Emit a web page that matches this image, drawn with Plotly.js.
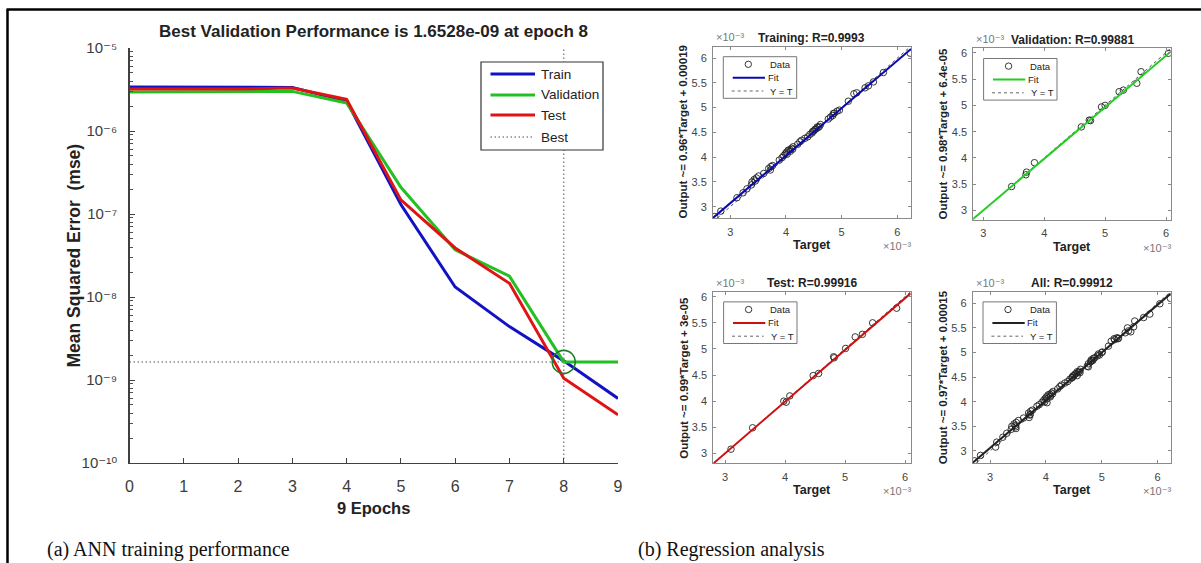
<!DOCTYPE html>
<html><head><meta charset="utf-8">
<script src="https://cdn.plot.ly/plotly-3.0.1.min.js"></script>
<style>html,body{margin:0;padding:0;background:#fff}#chart{width:1201px;height:563px}</style>
</head><body><div id="chart"></div>
<script>
// ---------- data: training performance ----------
const epochs = [0,1,2,3,4,5,6,7,8,9];
const trainPerf = [3.4e-6,3.4e-6,3.4e-6,3.35e-6,2.3e-6,1.3e-7,1.32e-8,4.4e-9,1.7e-9,6.0e-10];
const valPerf   = [2.95e-6,2.95e-6,2.95e-6,3.0e-6,2.18e-6,2.1e-7,3.7e-8,1.78e-8,1.6528e-9,1.6528e-9];
const testPerf  = [3.2e-6,3.2e-6,3.2e-6,3.3e-6,2.4e-6,1.48e-7,3.9e-8,1.46e-8,1.05e-9,3.8e-10];
const bestEpoch = 8;
const bestPerf = 1.6528e-9;
const perfTickVals = [1e-10,1e-9,1e-8,1e-7,1e-6,1e-5];
const perfTickText = ['10⁻¹⁰','10⁻⁹','10⁻⁸','10⁻⁷','10⁻⁶','10⁻⁵'];
const legendNames = ['Train','Validation','Test','Best'];

// ---------- data: regression (x10^-3) ----------
const trainT = [2.72,2.83,3.12,3.23,3.30,3.39,3.43,3.47,3.51,3.60,3.69,3.73,3.76,3.88,3.93,3.96,3.99,4.01,4.04,4.07,4.10,4.13,4.21,4.25,4.28,4.34,4.39,4.43,4.47,4.50,4.54,4.56,4.60,4.62,4.76,4.80,4.84,4.87,4.92,4.96,5.12,5.22,5.27,5.42,5.48,5.57,5.75,6.23,3.45,4.02,4.08,4.12,4.52,4.58,4.48,3.72,3.38,4.85];
const trainO = [2.80,2.91,3.18,3.28,3.36,3.50,3.55,3.58,3.62,3.67,3.77,3.81,3.83,3.94,3.99,4.03,4.07,4.10,4.14,4.15,4.18,4.21,4.26,4.31,4.34,4.38,4.41,4.46,4.49,4.53,4.57,4.61,4.62,4.66,4.77,4.81,4.84,4.89,4.93,4.95,5.13,5.28,5.30,5.40,5.44,5.52,5.71,6.10,3.52,4.06,4.12,4.16,4.56,4.60,4.52,3.74,3.44,4.88];
const valT = [3.465,3.70,3.71,3.84,4.61,4.74,4.76,4.94,5.00,5.23,5.30,5.52,5.59,6.04];
const valO = [3.456,3.68,3.73,3.91,4.59,4.72,4.71,4.97,5.00,5.26,5.29,5.42,5.64,5.99];
const testT = [3.10,3.46,3.98,4.02,4.08,4.47,4.56,4.81,4.82,5.01,5.17,5.29,5.46,5.86];
const testO = [3.08,3.49,4.00,3.98,4.10,4.49,4.53,4.85,4.83,5.01,5.23,5.28,5.50,5.78];
const allT = trainT.concat(valT, testT);
const allO = trainO.concat(valO, testO);
const regTitles = ['Training: R=0.9993','Validation: R=0.99881','Test: R=0.99916','All: R=0.99912'];
const regYLabels = ['Output ~= 0.96*Target + 0.00019','Output ~= 0.98*Target + 6.4e-05','Output ~= 0.99*Target + 3e-05','Output ~= 0.97*Target + 0.00015'];
const fitSlope = [0.96,0.98,0.99,0.97];
const fitIntercept = [0.19,0.064,0.03,0.15];
const regXTicks = [3,4,5,6];
const regYTicks = [3,3.5,4,4.5,5,5.5,6];
const scaleLabel = '×10⁻³';

// ---------- layout helpers ----------
const W = 1201, H = 563;
const PX = x => x / W;
const PY = y => 1 - y / H;
const FONT = 'Liberation Sans, Arial, Helvetica, DejaVu Sans, sans-serif';
const SERIF = 'Liberation Serif, Times New Roman, serif';
const cBlue = '#1212c4', cGreen = '#22c022', cRed = '#e01414';
const fitColors = ['#0a0ab0', '#25cc25', '#cc1010', '#222222'];
const DOT = '1.5px,2.5px';

const traces = [];
const shapes = [];
const annotations = [];

// ---------- left performance plot ----------
const L = {x0: 129.5, x1: 618, y0: 48, y1: 463};
traces.push({x:[bestEpoch,bestEpoch], y:[perfTickVals[0], perfTickVals[perfTickVals.length-1]], mode:'lines',
  line:{color:'#8a8a8a', width:1.5, dash:DOT}, xaxis:'x', yaxis:'y', showlegend:false, hoverinfo:'skip'});
traces.push({x:[epochs[0], epochs[epochs.length-1]], y:[bestPerf,bestPerf], mode:'lines',
  line:{color:'#8a8a8a', width:1.5, dash:DOT}, xaxis:'x', yaxis:'y', showlegend:false, hoverinfo:'skip'});
traces.push({x:epochs, y:trainPerf, mode:'lines', line:{color:cBlue, width:3}, xaxis:'x', yaxis:'y', showlegend:false, name:'Train'});
traces.push({x:epochs, y:valPerf, mode:'lines', line:{color:cGreen, width:3}, xaxis:'x', yaxis:'y', showlegend:false, name:'Validation'});
traces.push({x:epochs, y:testPerf, mode:'lines', line:{color:cRed, width:3}, xaxis:'x', yaxis:'y', showlegend:false, name:'Test'});
traces.push({x:[bestEpoch], y:[bestPerf], mode:'markers', marker:{symbol:'circle-open', size:23, color:'#1f7a2a', line:{width:1.6, color:'#1f7a2a'}},
  xaxis:'x', yaxis:'y', showlegend:false});

const minorVals = [];
for (let e = -10; e < -5; e++) for (let m = 2; m <= 9; m++) minorVals.push(m * Math.pow(10, e));

const layout = {
  width: W, height: H, margin:{l:0,r:0,t:0,b:0}, paper_bgcolor:'#fff', plot_bgcolor:'rgba(0,0,0,0)',
  showlegend:false, font:{family:FONT, color:'#222'},
  xaxis:{domain:[PX(L.x0),PX(L.x1)], range:[0,9], anchor:'y', tickmode:'array', tickvals:epochs,
    ticks:'inside', ticklen:5, tickcolor:'#404040', showline:true, linecolor:'#404040', linewidth:1.3,
    showgrid:false, zeroline:false, tickfont:{size:16, color:'#3c3c3c', family:FONT}, ticklabelstandoff:8},
  yaxis:{domain:[PY(L.y1),PY(L.y0)], type:'log', range:[-10,-5], anchor:'x', tickmode:'array',
    tickvals:perfTickVals, ticktext:perfTickText, ticks:'inside', ticklen:5, tickcolor:'#404040',
    showline:true, linecolor:'#404040', linewidth:1.3, showgrid:false, zeroline:false,
    tickfont:{size:15, color:'#3c3c3c', family:FONT}, ticklabelstandoff:8,
    minor:{tickmode:'array', tickvals:minorVals, ticks:'inside', ticklen:3, tickcolor:'#505050', showgrid:false}},
  shapes: shapes, annotations: annotations
};

annotations.push({xref:'paper', yref:'paper', x:PX(373.5), y:PY(31), text:'<b>Best Validation Performance is 1.6528e-09 at epoch 8</b>',
  showarrow:false, font:{size:17, family:FONT, color:'#222'}, xanchor:'center', yanchor:'middle'});
annotations.push({xref:'paper', yref:'paper', x:PX(373.5), y:PY(508), text:'<b>9 Epochs</b>',
  showarrow:false, font:{size:16.5, family:FONT, color:'#222'}, xanchor:'center', yanchor:'middle'});
annotations.push({xref:'paper', yref:'paper', x:PX(73.5), y:PY(256), text:'<b>Mean Squared Error  (mse)</b>', textangle:-90,
  showarrow:false, font:{size:17.5, family:FONT, color:'#222'}, xanchor:'center', yanchor:'middle'});

// left legend (manual)
const LG = {x0:481, y0:62, x1:603, y1:150};
shapes.push({type:'rect', xref:'paper', yref:'paper', x0:PX(LG.x0), x1:PX(LG.x1), y0:PY(LG.y1), y1:PY(LG.y0),
  line:{color:'#333', width:1.2}, fillcolor:'#fff', layer:'above'});
const lgRows = [74, 95, 115, 137];
const lgStyles = [{color:cBlue,width:3},{color:cGreen,width:3},{color:cRed,width:3},{color:'#8a8a8a',width:1.3,dash:DOT}];
legendNames.forEach((nm, i) => {
  shapes.push({type:'line', xref:'paper', yref:'paper', x0:PX(490.5), x1:PX(i===3?532:535), y0:PY(lgRows[i]), y1:PY(lgRows[i]),
    line:lgStyles[i], layer:'above'});
  annotations.push({xref:'paper', yref:'paper', x:PX(539), y:PY(lgRows[i]), text:nm, showarrow:false,
    xanchor:'left', yanchor:'middle', font:{size:13.5, family:FONT, color:'#222'}});
});

// ---------- regression subplots ----------
const boxes = [
  {x0:713, x1:911, y0:46.5, y1:218.3, xr:[2.69,6.245], yr:[2.765,6.235]},
  {x0:973.3, x1:1170.7, y0:48.3, y1:220, xr:[2.836,6.077], yr:[2.82,6.085]},
  {x0:713.3, x1:910.7, y0:291.7, y1:463.3, xr:[2.805,6.095], yr:[2.81,6.096]},
  {x0:972.7, x1:1170.7, y0:291.7, y1:463.3, xr:[2.69,6.234], yr:[2.75,6.235]}
];
const regT = [trainT, valT, testT, allT];
const regO = [trainO, valO, testO, allO];

boxes.forEach((b, i) => {
  const n = i + 2;
  const xa = 'x' + n, ya = 'y' + n;
  layout['xaxis' + n] = {domain:[PX(b.x0),PX(b.x1)], range:b.xr, anchor:ya, tickmode:'array', tickvals:regXTicks,
    ticks:'inside', ticklen:3, tickcolor:'#8a8a8a', showline:true, mirror:'ticks', linecolor:'#8a8a8a', linewidth:1,
    showgrid:false, zeroline:false, tickfont:{size:11, color:'#444', family:FONT}, ticklabelstandoff:3};
  layout['yaxis' + n] = {domain:[PY(b.y1),PY(b.y0)], range:b.yr, anchor:xa, tickmode:'array', tickvals:regYTicks,
    ticks:'inside', ticklen:3, tickcolor:'#8a8a8a', showline:true, mirror:'ticks', linecolor:'#8a8a8a', linewidth:1,
    showgrid:false, zeroline:false, tickfont:{size:11, color:'#444', family:FONT}, ticklabelstandoff:3};
  const lo = Math.min(b.xr[0], b.yr[0]), hi = Math.max(b.xr[1], b.yr[1]);
  traces.push({x:[lo,hi], y:[lo,hi], mode:'lines', line:{color:'#555', width:1, dash:'dot'}, xaxis:xa, yaxis:ya, showlegend:false, hoverinfo:'skip'});
  traces.push({x:regT[i], y:regO[i], mode:'markers', marker:{symbol:'circle-open', size:6.5, color:'#222', line:{width:0.9, color:'#222'}},
    xaxis:xa, yaxis:ya, showlegend:false});
  traces.push({x:[b.xr[0], b.xr[1]], y:[fitSlope[i]*b.xr[0]+fitIntercept[i], fitSlope[i]*b.xr[1]+fitIntercept[i]], mode:'lines',
    line:{color:fitColors[i], width:2}, xaxis:xa, yaxis:ya, showlegend:false});

  const cx = (b.x0 + b.x1) / 2;
  annotations.push({xref:'paper', yref:'paper', x:PX(cx), y:PY(b.y0 - 8.5), text:'<b>' + regTitles[i] + '</b>', showarrow:false,
    xanchor:'center', yanchor:'middle', font:{size:12, family:FONT, color:'#222'}});
  annotations.push({xref:'paper', yref:'paper', x:PX(b.x0 + 1), y:PY(b.y0 - 1), text:scaleLabel, showarrow:false,
    xanchor:'left', yanchor:'bottom', font:{size:11, family:FONT, color:'#777'}});
  annotations.push({xref:'paper', yref:'paper', x:PX(b.x1 + 2), y:PY(b.y1 + 28), text:scaleLabel, showarrow:false,
    xanchor:'right', yanchor:'middle', font:{size:11, family:FONT, color:'#777'}});
  annotations.push({xref:'paper', yref:'paper', x:PX(cx), y:PY(b.y1 + 27), text:'<b>Target</b>', showarrow:false,
    xanchor:'center', yanchor:'middle', font:{size:12.5, family:FONT, color:'#222'}});
  annotations.push({xref:'paper', yref:'paper', x:PX(b.x0 - 30), y:PY((b.y0 + b.y1) / 2), text:'<b>' + regYLabels[i] + '</b>',
    textangle:-90, showarrow:false, xanchor:'center', yanchor:'middle', font:{size:11.5, family:FONT, color:'#222'}});

  // small legend
  const lx = b.x0, ly = b.y0;
  shapes.push({type:'rect', xref:'paper', yref:'paper', x0:PX(lx+10.3), x1:PX(lx+83.7), y0:PY(ly+51.8), y1:PY(ly+10.2),
    line:{color:'#777', width:1}, fillcolor:'#fff', layer:'above'});
  shapes.push({type:'circle', xref:'paper', yref:'paper', x0:PX(lx+35.3-3.2), x1:PX(lx+35.3+3.2), y0:PY(ly+17.8+3.2), y1:PY(ly+17.8-3.2),
    line:{color:'#222', width:0.9}, layer:'above'});
  shapes.push({type:'line', xref:'paper', yref:'paper', x0:PX(lx+19.7), x1:PX(lx+52), y0:PY(ly+31.2), y1:PY(ly+31.2),
    line:{color:fitColors[i], width:2}, layer:'above'});
  shapes.push({type:'line', xref:'paper', yref:'paper', x0:PX(lx+18.7), x1:PX(lx+50.3), y0:PY(ly+44.5), y1:PY(ly+44.5),
    line:{color:'#666', width:1, dash:'dot'}, layer:'above'});
  [['Data', 55, 17.8], ['Fit', 52.7, 31.2], ['Y = T', 55.3, 44.5]].forEach(t => {
    annotations.push({xref:'paper', yref:'paper', x:PX(lx + t[1]), y:PY(ly + t[2]), text:t[0], showarrow:false,
      xanchor:'left', yanchor:'middle', font:{size:9.5, family:FONT, color:'#222'}});
  });
});

// ---------- frame and captions ----------
shapes.push({type:'line', xref:'paper', yref:'paper', x0:PX(7.5), x1:PX(7.5), y0:PY(563), y1:PY(9.5), line:{color:'#000', width:2.5}});
shapes.push({type:'line', xref:'paper', yref:'paper', x0:PX(6.5), x1:PX(1201), y0:PY(9.5), y1:PY(9.5), line:{color:'#000', width:2.5}});
annotations.push({xref:'paper', yref:'paper', x:PX(45), y:PY(549), text:'(a) ANN training performance', showarrow:false,
  xanchor:'left', yanchor:'middle', font:{size:20, family:SERIF, color:'#111'}});
annotations.push({xref:'paper', yref:'paper', x:PX(636), y:PY(549), text:'(b) Regression analysis', showarrow:false,
  xanchor:'left', yanchor:'middle', font:{size:20, family:SERIF, color:'#111'}});

Plotly.newPlot('chart', traces, layout, {displayModeBar:false, staticPlot:true});
</script></body></html>
